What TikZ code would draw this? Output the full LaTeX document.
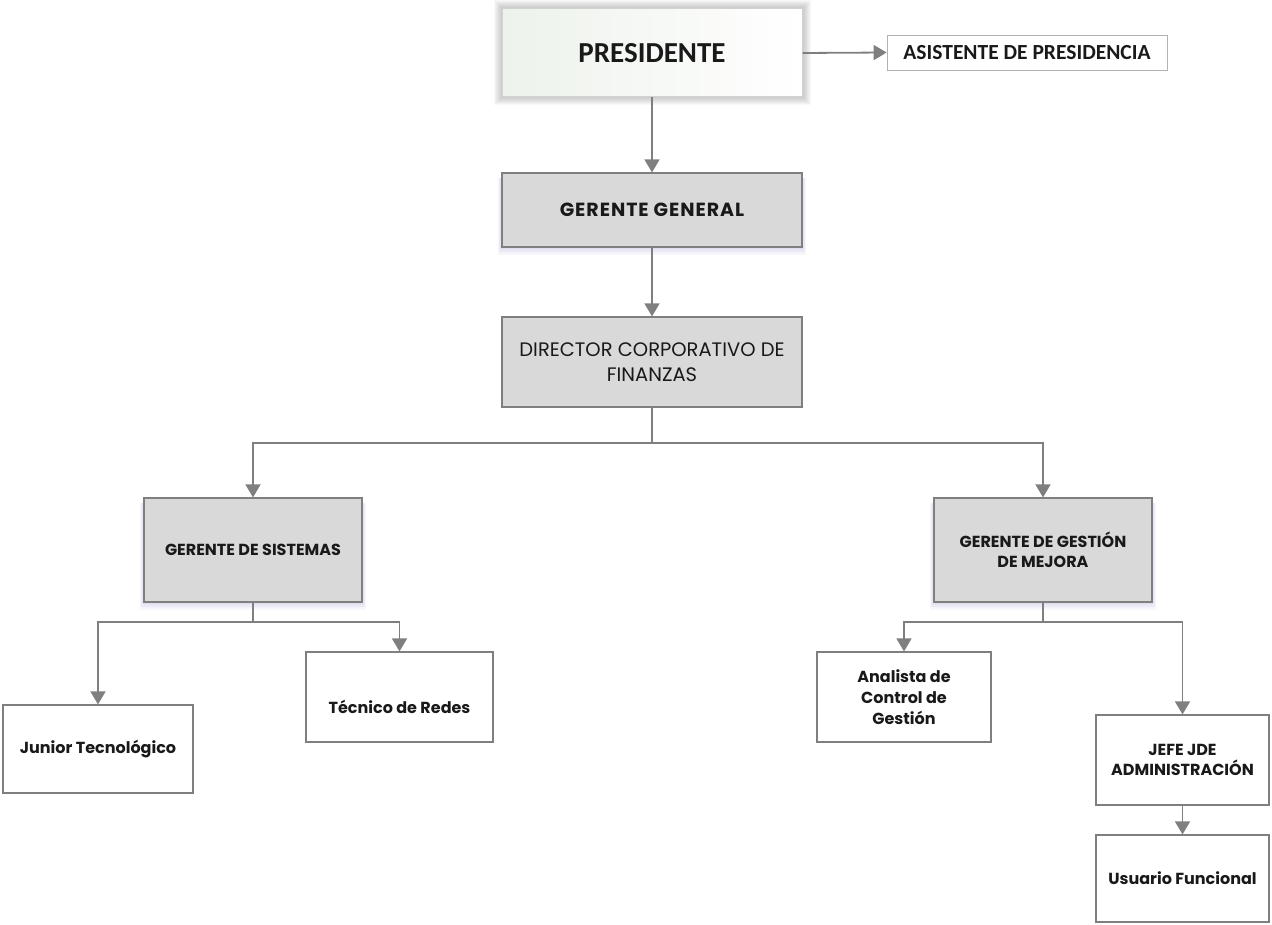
\documentclass[tikz,border=0pt]{standalone}
\usepackage{fontspec}
\setmainfont{Poppins}
\newfontfamily\calib{Carlito}
\usetikzlibrary{arrows.meta,backgrounds,calc}
\definecolor{edgegray}{HTML}{7F7F7F}
\definecolor{boxgray}{HTML}{D9D9D9}
\definecolor{paleleft}{HTML}{EDF2EB}
\newcommand{\fs}[2]{\fontsize{#1}{#2}\selectfont}
\tikzset{
  role/.style={rectangle, draw=edgegray, line width=1.2pt, fill=white,
    align=center, inner sep=2pt, text=black!90},
  mgr/.style={role, fill=boxgray},
  small/.style={font=\bfseries\fs{16}{20}},
  conn/.style={draw=edgegray, line width=1.8pt,
    -{Triangle[width=15pt,length=13pt]}},
}
\begin{document}
\begin{tikzpicture}[x=1pt,y=-1pt]
\path[use as bounding box] (0,0) rectangle (1272,925);

% top of the chart
\node[role, minimum width=300pt, minimum height=88pt, left color=paleleft, right color=white,
  draw=gray!35, line width=1pt, font=\calib\bfseries\fs{29}{34}]
  (pres) at (652,53) {PRESIDENTE};
\node[role, draw=gray!60, line width=0.8pt, minimum width=280pt, minimum height=35pt,
  font=\calib\bfseries\fs{21.5}{25}]
  (asist) at (1027,52.5) {ASISTENTE DE PRESIDENCIA};
\node[mgr, minimum width=300pt, minimum height=74pt,
  font=\bfseries\fs{19}{23}\addfontfeature{LetterSpace=5}] (gg) at (652,210)
  {GERENTE GENERAL};
\node[mgr, minimum width=300pt, minimum height=90pt, font=\fs{19.5}{25}] (dir) at (652,362)
  {DIRECTOR CORPORATIVO DE\\FINANZAS};

% managers
\node[mgr, minimum width=218pt, minimum height=104pt, small] (gs) at (253,550)
  {GERENTE DE SISTEMAS};
\node[mgr, minimum width=218pt, minimum height=104pt, small] (ggm) at (1043,550)
  {GERENTE DE GESTIÓN\\DE MEJORA};

% staff
\node[role, minimum width=190pt, minimum height=88pt, small] (jun) at (98,749)
  {Junior Tecnológico};
\node[role, minimum width=187pt, minimum height=90pt, small, text height=36pt, text depth=4pt]
  (tec) at (399.5,697) {Técnico de Redes};
\node[role, minimum width=174pt, minimum height=90pt, small, font=\bfseries\fs{16}{21}] (ana) at (904,697)
  {Analista de\\Control de\\Gestión};
\node[role, minimum width=173pt, minimum height=90pt, small] (jefe) at (1182.5,760)
  {JEFE JDE\\ADMINISTRACIÓN};
\node[role, minimum width=173pt, minimum height=87pt, small] (usu) at (1182.5,878.5)
  {Usuario Funcional};

% soft frames behind the boxes
\begin{scope}[on background layer]
  \foreach \i in {1,...,8}
    \fill[gray, opacity=0.06] ($(pres.south west)+(-\i,\i)$) rectangle ($(pres.north east)+(\i,-\i)$);
  \foreach \n in {gg,gs,ggm}
    \foreach \i in {1,...,5}
      \fill[blue!35!gray, opacity=0.04] ($(\n.south west)+(-\i*0.7,\i*1.4)$) rectangle ($(\n.north east)+(\i*0.7,6)$);
\end{scope}

% reporting lines
\draw[conn] (pres.east) -- (asist.west);
\draw[conn] (pres.south) -- (gg.north);
\draw[conn] (gg.south) -- (dir.north);
\path (dir.south) ++(0,35) coordinate (j1);
\draw[conn] (dir.south) -- (j1) -| (gs.north);
\draw[conn] (j1) -| (ggm.north);
\path (gs.south) ++(0,19) coordinate (j2);
\draw[conn] (gs.south) -- (j2) -| (jun.north);
\draw[conn] (j2) -| (tec.north);
\path (ggm.south) ++(0,19) coordinate (j3);
\draw[conn] (ggm.south) -- (j3) -| (ana.north);
\draw[conn] (j3) -| (jefe.north);
\draw[conn] (jefe.south) -- (usu.north);
\end{tikzpicture}
\end{document}
